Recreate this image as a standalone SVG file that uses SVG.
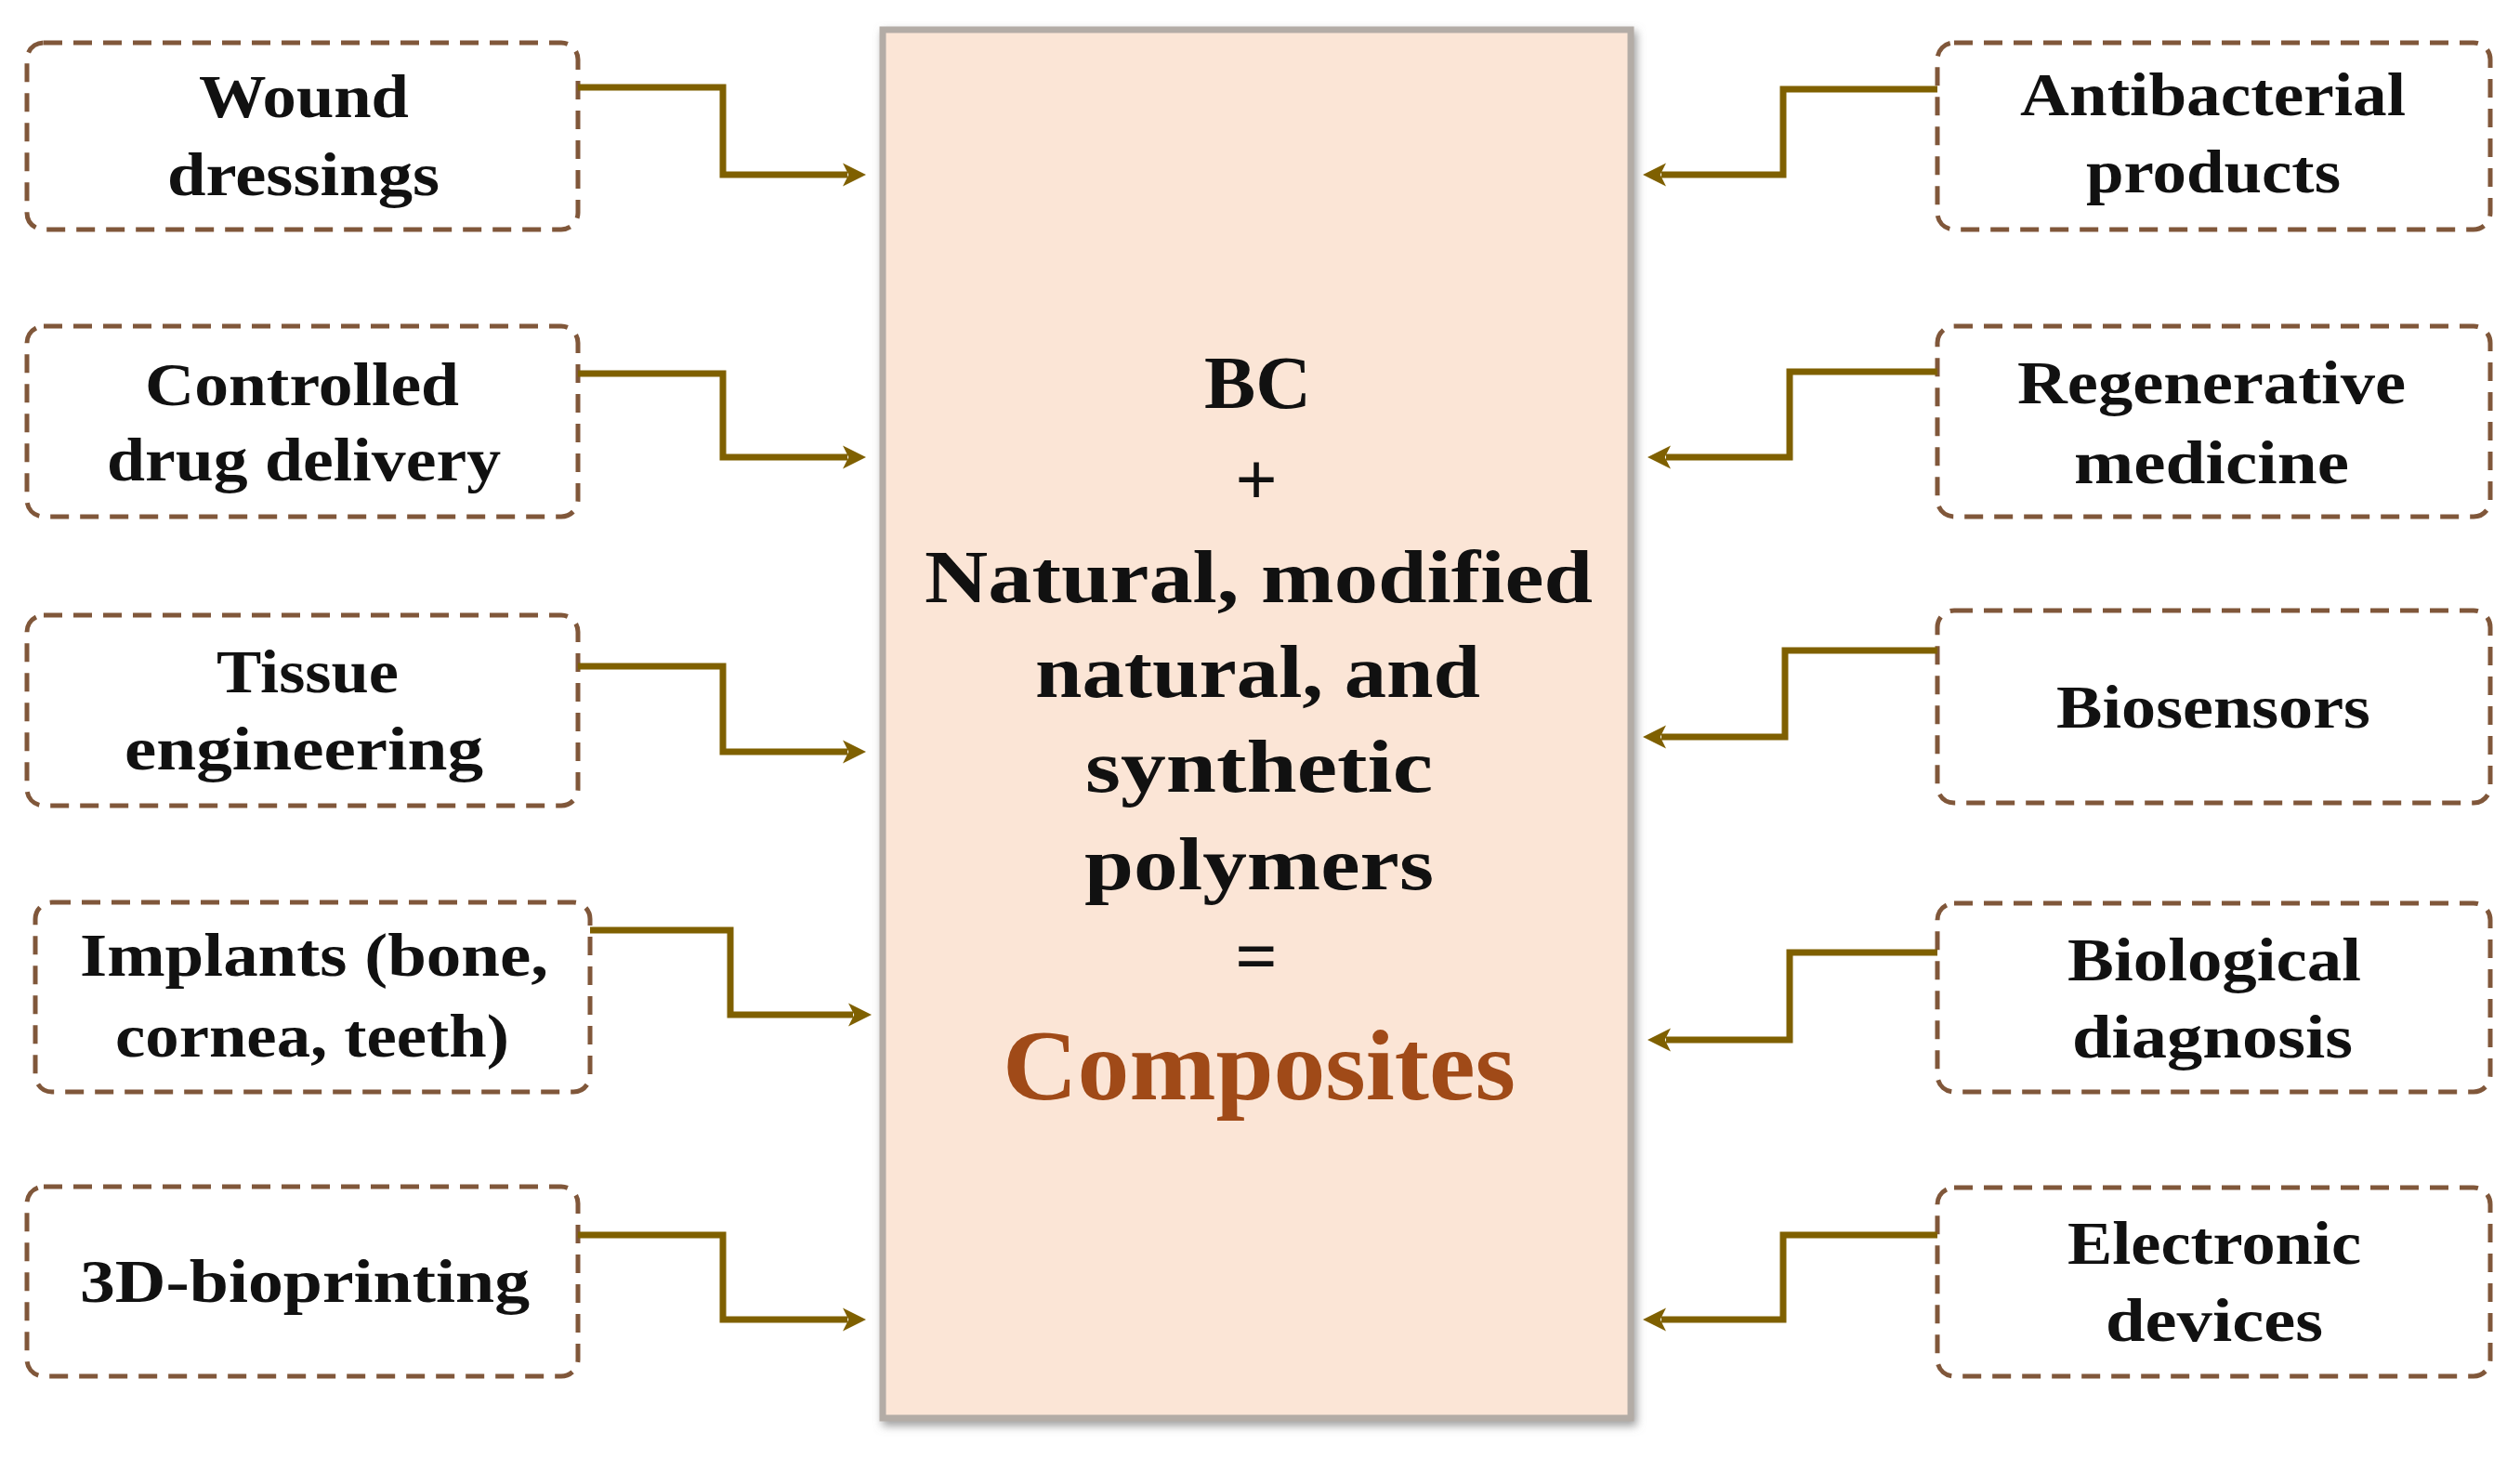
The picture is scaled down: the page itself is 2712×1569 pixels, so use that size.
<svg xmlns="http://www.w3.org/2000/svg" width="2712" height="1569" viewBox="0 0 2712 1569">
  <style>
    .box { fill: #ffffff; stroke: #80573a; stroke-width: 5; stroke-dasharray: 20 12; }
    .lbl { font-family: "Liberation Serif", "Times New Roman", serif; font-weight: bold; font-size: 66px; fill: #111111; }
    .ctr { font-family: "Liberation Serif", "Times New Roman", serif; font-weight: bold; font-size: 80px; fill: #111111; }
    .comp { font-family: "Liberation Serif", "Times New Roman", serif; font-weight: bold; font-size: 108px; fill: #a04a18; }
    .con { fill: none; stroke: #7f6000; stroke-width: 7; stroke-linejoin: miter; }
  </style>
  <defs>
    <marker id="arr" viewBox="0 0 10 10" refX="2" refY="5" markerWidth="3.6" markerHeight="3.6" orient="auto" markerUnits="strokeWidth">
      <path d="M0,0 L10,5 L0,10 L2.5,5 Z" fill="#7f6000"/>
    </marker>
    <filter id="shadow" x="-5%" y="-5%" width="110%" height="110%">
      <feGaussianBlur in="SourceAlpha" stdDeviation="5"/>
      <feOffset dx="3" dy="5" result="b"/>
      <feFlood flood-color="#888888" flood-opacity="0.8"/>
      <feComposite in2="b" operator="in"/>
      <feMerge><feMergeNode/><feMergeNode in="SourceGraphic"/></feMerge>
    </filter>
  </defs>
  <rect width="2712" height="1569" fill="#ffffff"/>

  <g id="center">
    <rect x="950" y="32" width="805" height="1494" fill="#fbe5d6" stroke="#b3aca6" stroke-width="7" filter="url(#shadow)"/>
    <text class="ctr" x="1296" y="439" textLength="115" lengthAdjust="spacingAndGlyphs">BC</text>
    <text class="ctr" x="1352" y="543" text-anchor="middle">+</text>
    <text class="ctr" x="995" y="648" textLength="719" lengthAdjust="spacingAndGlyphs">Natural, modified</text>
    <text class="ctr" x="1114" y="750" textLength="479" lengthAdjust="spacingAndGlyphs">natural, and</text>
    <text class="ctr" x="1168" y="852" textLength="374" lengthAdjust="spacingAndGlyphs">synthetic</text>
    <text class="ctr" x="1167" y="957" textLength="376" lengthAdjust="spacingAndGlyphs">polymers</text>
    <text class="ctr" x="1352" y="1056" text-anchor="middle">=</text>
    <text class="comp" x="1079" y="1183" textLength="552" lengthAdjust="spacingAndGlyphs">Composites</text>
  </g>

  <g id="wound-dressings">
    <rect class="box" x="29" y="46" width="593" height="201" rx="18"/>
    <text class="lbl" x="214" y="126" textLength="226" lengthAdjust="spacingAndGlyphs">Wound</text>
    <text class="lbl" x="180" y="210" textLength="293" lengthAdjust="spacingAndGlyphs">dressings</text>
  </g>
  <g id="controlled-drug-delivery">
    <rect class="box" x="29" y="351" width="593" height="205" rx="18"/>
    <text class="lbl" x="156" y="436" textLength="338" lengthAdjust="spacingAndGlyphs">Controlled</text>
    <text class="lbl" x="115" y="517" textLength="424" lengthAdjust="spacingAndGlyphs">drug delivery</text>
  </g>
  <g id="tissue-engineering">
    <rect class="box" x="29" y="662" width="593" height="205" rx="18"/>
    <text class="lbl" x="233" y="745" textLength="196" lengthAdjust="spacingAndGlyphs">Tissue</text>
    <text class="lbl" x="134" y="828" textLength="386" lengthAdjust="spacingAndGlyphs">engineering</text>
  </g>
  <g id="implants">
    <rect class="box" x="38" y="971" width="597" height="204" rx="18"/>
    <text class="lbl" x="86" y="1050" textLength="504" lengthAdjust="spacingAndGlyphs">Implants (bone,</text>
    <text class="lbl" x="124" y="1137" textLength="424" lengthAdjust="spacingAndGlyphs">cornea, teeth)</text>
  </g>
  <g id="bioprinting">
    <rect class="box" x="29" y="1277" width="593" height="204" rx="18"/>
    <text class="lbl" x="86" y="1401" textLength="484" lengthAdjust="spacingAndGlyphs">3D-bioprinting</text>
  </g>

  <g id="antibacterial-products">
    <rect class="box" x="2085" y="46" width="595" height="201" rx="18"/>
    <text class="lbl" x="2174" y="124" textLength="415" lengthAdjust="spacingAndGlyphs">Antibacterial</text>
    <text class="lbl" x="2245" y="207" textLength="274" lengthAdjust="spacingAndGlyphs">products</text>
  </g>
  <g id="regenerative-medicine">
    <rect class="box" x="2085" y="351" width="595" height="205" rx="18"/>
    <text class="lbl" x="2171" y="434" textLength="418" lengthAdjust="spacingAndGlyphs">Regenerative</text>
    <text class="lbl" x="2232" y="520" textLength="296" lengthAdjust="spacingAndGlyphs">medicine</text>
  </g>
  <g id="biosensors">
    <rect class="box" x="2085" y="657" width="595" height="207" rx="18"/>
    <text class="lbl" x="2213" y="783" textLength="338" lengthAdjust="spacingAndGlyphs">Biosensors</text>
  </g>
  <g id="biological-diagnosis">
    <rect class="box" x="2085" y="972" width="595" height="203" rx="18"/>
    <text class="lbl" x="2225" y="1055" textLength="316" lengthAdjust="spacingAndGlyphs">Biological</text>
    <text class="lbl" x="2230" y="1138" textLength="302" lengthAdjust="spacingAndGlyphs">diagnosis</text>
  </g>
  <g id="electronic-devices">
    <rect class="box" x="2085" y="1278" width="595" height="203" rx="18"/>
    <text class="lbl" x="2225" y="1360" textLength="316" lengthAdjust="spacingAndGlyphs">Electronic</text>
    <text class="lbl" x="2266" y="1443" textLength="234" lengthAdjust="spacingAndGlyphs">devices</text>
  </g>

  <g id="connectors">
    <path class="con" marker-end="url(#arr)" d="M622,94 H778 V188 H912"/>
    <path class="con" marker-end="url(#arr)" d="M622,402 H778 V492 H912"/>
    <path class="con" marker-end="url(#arr)" d="M622,717 H778 V809 H912"/>
    <path class="con" marker-end="url(#arr)" d="M635,1001 H786 V1092 H918"/>
    <path class="con" marker-end="url(#arr)" d="M622,1329 H778 V1420 H912"/>
    <path class="con" marker-end="url(#arr)" d="M2085,96 H1919 V188 H1788"/>
    <path class="con" marker-end="url(#arr)" d="M2085,400 H1926 V492 H1793"/>
    <path class="con" marker-end="url(#arr)" d="M2085,700 H1921 V793 H1788"/>
    <path class="con" marker-end="url(#arr)" d="M2085,1025 H1926 V1119 H1793"/>
    <path class="con" marker-end="url(#arr)" d="M2085,1329 H1919 V1420 H1788"/>
  </g>
</svg>
